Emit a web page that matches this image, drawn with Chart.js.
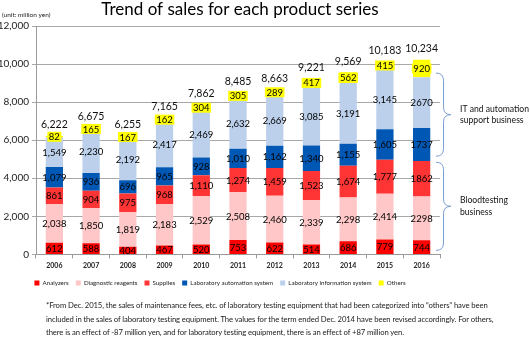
<!DOCTYPE html>
<html>
<head>
<meta charset="utf-8">
<script src="https://cdn.jsdelivr.net/npm/chart.js@4.4.0/dist/chart.umd.min.js"></script>
<style>
  body { margin: 0; background: #fff; }
  #wrap { position: relative; width: 530px; height: 339px; }
  #chart { position: absolute; left: 0; top: 0; }
  #nota {
    position: absolute; left: 46px; top: 299px;
    font: 7.7px Lato, sans-serif; line-height: 13.5px; color: #222;
    white-space: nowrap; letter-spacing: -0.1px;
  }
</style>
</head>
<body>
<div id="wrap">
  <canvas id="chart" width="530" height="300"></canvas>
  <div id="nota">
    *From Dec. 2015, the sales of maintenance fees, etc. of laboratory testing equipment that had been categorized into “others” have been<br>
    included in the sales of laboratory testing equipment. The values for the term ended Dec. 2014 have been revised accordingly. For others,<br>
    there is an effect of -87 million yen, and for laboratory testing equipment, there is an effect of +87 million yen.
  </div>
</div>
<script>
// ventas por serie de producto (millones de yenes)
const years = ["2006", "2007", "2008", "2009", "2010", "2011", "2012", "2013", "2014", "2015", "2016"];
const analyzers = [612, 588, 404, 467, 520, 753, 622, 514, 686, 779, 744];
const reagents = [2038, 1850, 1819, 2183, 2529, 2508, 2460, 2339, 2298, 2414, 2298];
const supplies = [861, 904, 975, 968, 1110, 1274, 1459, 1523, 1674, 1777, 1862];
const labAutomation = [1079, 936, 696, 965, 928, 1010, 1162, 1340, 1155, 1605, 1737];
const labInformation = [1549, 2230, 2192, 2417, 2469, 2632, 2669, 3085, 3191, 3145, 2670];
const others = [82, 165, 167, 162, 304, 305, 289, 417, 562, 415, 920];
const totals = [6222, 6675, 6255, 7165, 7862, 8485, 8663, 9221, 9569, 10183, 10234];
const yTicks = [0, 2000, 4000, 6000, 8000, 10000, 12000];
// años cuyas etiquetas van sin separador de miles
const plainYears = ["2016"];

// llaves de la derecha: rango en el eje y + texto
const groups = [
    { from: 9526, to: 5158, lines: ["IT and automation", "support business"] },
    { from: 4842, to: 210, lines: ["Bloodtesting", "business"] }
];

const FONT = "Lato, 'Open Sans', sans-serif";

function fmt(v, i) {
    return plainYears.includes(years[i]) ? String(v) : v.toLocaleString("en-US");
}

function brace(ctx, x, top, bottom, w) {
    const mid = (top + bottom) / 2, h = w / 2;
    ctx.beginPath();
    ctx.moveTo(x, top);
    ctx.quadraticCurveTo(x + h, top, x + h, top + h);
    ctx.lineTo(x + h, mid - h);
    ctx.quadraticCurveTo(x + h, mid, x + w, mid);
    ctx.quadraticCurveTo(x + h, mid, x + h, mid + h);
    ctx.lineTo(x + h, bottom - h);
    ctx.quadraticCurveTo(x + h, bottom, x, bottom);
    ctx.stroke();
}

// etiquetas, totales, título y llaves
const extras = {
    id: "extras",
    afterDatasetsDraw(chart) {
        const ctx = chart.ctx;
        const area = chart.chartArea;
        const y = chart.scales.y;
        ctx.save();
        ctx.textAlign = "center";
        ctx.textBaseline = "middle";

        chart.data.datasets.forEach((ds, d) => {
            const meta = chart.getDatasetMeta(d);
            meta.data.forEach((bar, i) => {
                const cy = (bar.y + bar.base) / 2;
                const txt = fmt(ds.data[i], i);
                ctx.font = "9.5px " + FONT;
                if (ds.label === "Others") {
                    const w = ctx.measureText(txt).width + 3;
                    ctx.fillStyle = "#ffff00";
                    ctx.fillRect(bar.x - w / 2, cy - 5, w, 10);
                }
                ctx.fillStyle = "#000";
                ctx.fillText(txt, bar.x, cy + 0.5);
            });
        });

        // totales encima de cada barra
        const top = chart.getDatasetMeta(chart.data.datasets.length - 1);
        ctx.font = "10.5px " + FONT;
        ctx.fillStyle = "#111";
        top.data.forEach((bar, i) => {
            ctx.fillText(totals[i].toLocaleString("en-US"), bar.x, bar.y - 11);
        });

        // título
        ctx.font = "17px " + FONT;
        ctx.fillStyle = "#000";
        ctx.fillText("Trend of sales for each product series", 240, 10);

        ctx.textAlign = "left";
        ctx.font = "6.5px " + FONT;
        ctx.fillStyle = "#222";
        ctx.fillText("(unit: million yen)", 2, 15);

        // llaves de grupos
        ctx.strokeStyle = "#7d9fd0";
        ctx.lineWidth = 1;
        ctx.font = "8.6px " + FONT;
        ctx.fillStyle = "#111";
        groups.forEach(g => {
            const t = y.getPixelForValue(g.from), b = y.getPixelForValue(g.to);
            brace(ctx, area.right - 4, t, b, 15);
            const mid = (t + b) / 2;
            g.lines.forEach((line, k) => {
                ctx.fillText(line, area.right + 20, mid + (k - (g.lines.length - 1) / 2) * 11.5);
            });
        });
        ctx.restore();
    }
};

const ctx = document.getElementById("chart").getContext("2d");
new Chart(ctx, {
    type: "bar",
    data: {
        labels: years,
        datasets: [
            { label: "Analyzers", data: analyzers, backgroundColor: "#ff0000" },
            { label: "Diagnostic reagents", data: reagents, backgroundColor: "#ffc7c7" },
            { label: "Supplies", data: supplies, backgroundColor: "#ff3434" },
            { label: "Laboratory automation system", data: labAutomation, backgroundColor: "#0058b4" },
            { label: "Laboratory information system", data: labInformation, backgroundColor: "#bcd0ec" },
            { label: "Others", data: others, backgroundColor: "#ffff00" }
        ]
    },
    options: {
        responsive: false,
        animation: false,
        layout: { padding: { top: 26, right: 90, bottom: 4, left: 0 } },
        datasets: { bar: { barPercentage: 0.47, categoryPercentage: 1 } },
        scales: {
            x: {
                stacked: true,
                grid: { drawOnChartArea: false, color: "#9a9a9a", tickLength: 4, offset: true },
                border: { color: "#9a9a9a" },
                ticks: { color: "#222", font: { family: FONT, size: 7, weight: "bold" }, padding: 3, maxRotation: 0 }
            },
            y: {
                stacked: true,
                min: 0,
                max: 12000,
                afterFit: s => { s.width = 36; },
                afterBuildTicks: s => { s.ticks = yTicks.map(v => ({ value: v })); },
                grid: { color: "#a8a8a8", tickLength: 4 },
                border: { color: "#9a9a9a" },
                ticks: {
                    color: "#222",
                    font: { family: FONT, size: 10 },
                    padding: 3,
                    callback: v => v.toLocaleString("en-US")
                }
            }
        },
        plugins: {
            legend: {
                position: "bottom",
                labels: {
                    boxWidth: 5,
                    boxHeight: 5,
                    padding: 7,
                    color: "#222",
                    font: { family: FONT, size: 6.2 }
                }
            },
            tooltip: { enabled: false }
        }
    },
    plugins: [extras]
});
</script>
</body>
</html>
